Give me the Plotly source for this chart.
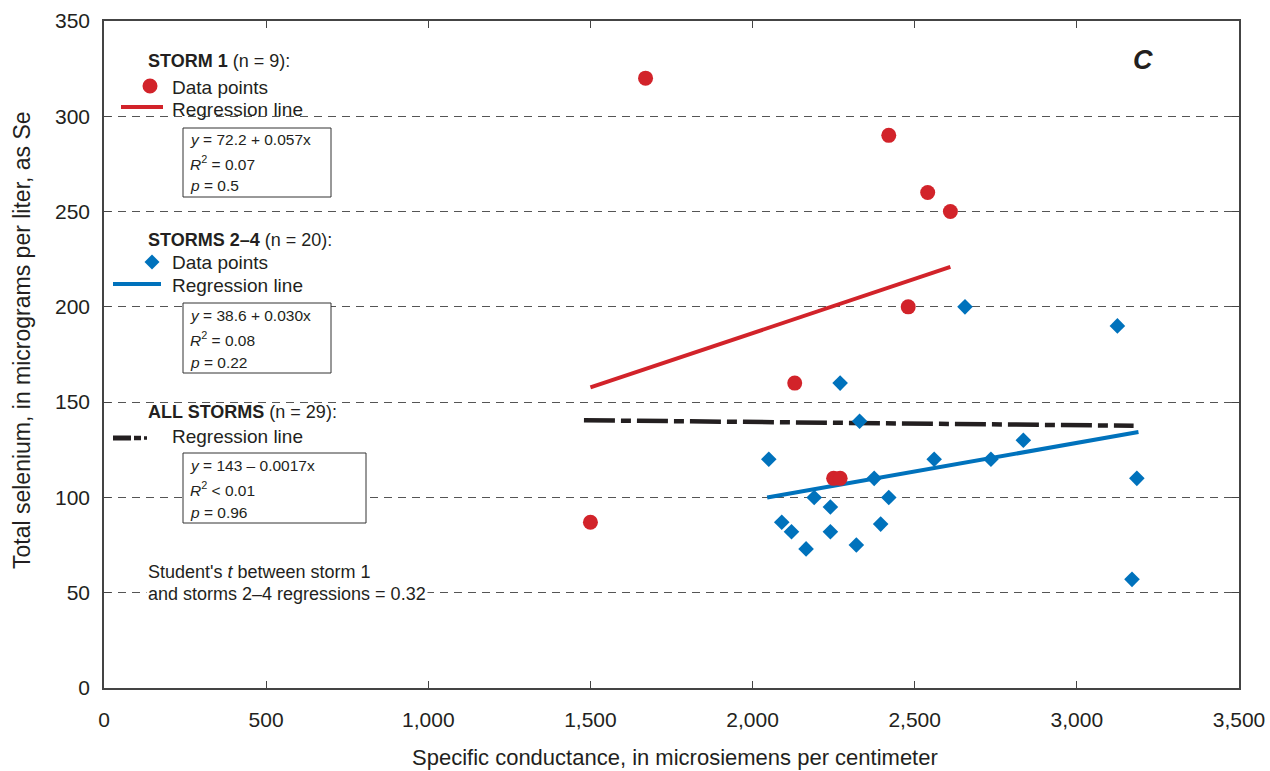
import plotly.graph_objects as go

# ---------------- data ----------------
storm1_sc = [1500, 1670, 2130, 2250, 2270, 2420, 2480, 2540, 2610]
storm1_se = [87, 320, 160, 110, 110, 290, 200, 260, 250]

storms24_sc = [2050, 2090, 2120, 2165, 2190, 2240, 2240, 2270, 2320, 2330,
               2375, 2395, 2420, 2560, 2655, 2735, 2835, 3125, 3170, 3185]
storms24_se = [120, 87, 82, 73, 100, 95, 82, 160, 75, 140,
               110, 86, 100, 120, 200, 120, 130, 190, 57, 110]

# regression equations (intercept, slope) and x extents
storm1_reg = (72.2, 0.057)
storm1_reg_x = [1500, 2610]
storms24_reg = (38.6, 0.030)
storms24_reg_x = [2045, 3190]
all_reg = (143.0, -0.0017)
all_reg_x = [1480, 3175]

x_ticks = [0, 500, 1000, 1500, 2000, 2500, 3000, 3500]
y_ticks = [0, 50, 100, 150, 200, 250, 300, 350]

RED = "#D2232A"
BLUE = "#0072BC"
BLACK = "#231F20"
TXT = "#231F20"
FONT = "Liberation Sans, Arial, sans-serif"

def reg_y(eq, xs):
    return [eq[0] + eq[1] * x for x in xs]

fig = go.Figure()

fig.add_trace(go.Scatter(x=all_reg_x, y=reg_y(all_reg, all_reg_x), mode="lines",
                         line=dict(color=BLACK, width=4.5, dash="31px,6px,10px,6px"),
                         showlegend=False, hoverinfo="skip"))
fig.add_trace(go.Scatter(x=storm1_reg_x, y=reg_y(storm1_reg, storm1_reg_x), mode="lines",
                         line=dict(color=RED, width=4), showlegend=False, hoverinfo="skip"))
fig.add_trace(go.Scatter(x=storms24_reg_x, y=reg_y(storms24_reg, storms24_reg_x), mode="lines",
                         line=dict(color=BLUE, width=4), showlegend=False, hoverinfo="skip"))
fig.add_trace(go.Scatter(x=storm1_sc, y=storm1_se, mode="markers",
                         marker=dict(symbol="circle", size=15, color=RED, line=dict(width=0)),
                         showlegend=False))
fig.add_trace(go.Scatter(x=storms24_sc, y=storms24_se, mode="markers",
                         marker=dict(symbol="diamond", size=12, color=BLUE, line=dict(width=0)),
                         showlegend=False))

# ---------------- layout helpers (pixel -> paper) ----------------
L, R, T, B = 104, 1239, 21, 688
def px(x):
    return (x - L) / (R - L)
def py(y):
    return (B - y) / (B - T)

shapes = []
annotations = []

def text(x, y, s, size=19, xanchor="left", bg=None, **kw):
    d = dict(x=px(x), y=py(y), xref="paper", yref="paper", text=s, showarrow=False,
             xanchor=xanchor, yanchor="middle", align="left",
             font=dict(family=FONT, size=size, color=TXT))
    if bg:
        d["bgcolor"] = bg
    d.update(kw)
    annotations.append(d)

def box(x0, y0, x1, y1):
    shapes.append(dict(type="rect", xref="paper", yref="paper",
                       x0=px(x0), x1=px(x1), y0=py(y1), y1=py(y0),
                       line=dict(color="#333333", width=1), fillcolor="white", layer="above"))

def hline(x0, x1, y, color, width):
    shapes.append(dict(type="line", xref="paper", yref="paper",
                       x0=px(x0), x1=px(x1), y0=py(y), y1=py(y),
                       line=dict(color=color, width=width), layer="above"))

# Storm 1 legend
text(146, 61, "<b>STORM 1</b> (n = 9):", size=18)
shapes.append(dict(type="circle", xref="paper", yref="paper",
                   x0=px(142.5), x1=px(157.5), y0=py(93.5), y1=py(78.5),
                   fillcolor=RED, line=dict(width=0), layer="above"))
text(170, 87, "Data points")
hline(121, 163, 107, RED, 4)
text(170, 109, "Regression line")
box(183, 128, 331, 197)
text(188, 140, "<i>y</i> = 72.2 + 0.057x", size=15.5)
text(188, 163, "<i>R</i><sup>2</sup> = 0.07", size=15.5)
text(188, 186, "<i>p</i> = 0.5", size=15.5)

# Storms 2-4 legend
text(146, 240, "<b>STORMS 2–4</b> (n = 20):", size=18)
cx, cy, r = 152, 262, 7.5
shapes.append(dict(type="path", xref="paper", yref="paper",
                   path="M {} {} L {} {} L {} {} L {} {} Z".format(
                       px(cx - r), py(cy), px(cx), py(cy - r), px(cx + r), py(cy), px(cx), py(cy + r)),
                   fillcolor=BLUE, line=dict(width=0), layer="above"))
text(170, 262, "Data points")
hline(113, 161, 284, BLUE, 4)
text(170, 285, "Regression line")
box(183, 303, 331, 373)
text(188, 315, "<i>y</i> = 38.6 + 0.030x", size=15.5)
text(188, 339, "<i>R</i><sup>2</sup> = 0.08", size=15.5)
text(188, 362, "<i>p</i> = 0.22", size=15.5)

# All storms legend
text(146, 412, "<b>ALL STORMS</b> (n = 29):", size=18)
hline(113, 131, 438, BLACK, 5)
hline(134, 141, 438, BLACK, 4.5)
hline(144, 147, 438, BLACK, 3.5)
text(170, 436, "Regression line")
box(183, 453, 366, 523)
text(188, 465, "<i>y</i> = 143 – 0.0017x", size=15.5)
text(188, 489, "<i>R</i><sup>2</sup> &lt; 0.01", size=15.5)
text(188, 512, "<i>p</i> = 0.96", size=15.5)

# Student's t
text(146, 572, "Student's <i>t</i> between storm 1", size=18)
text(146, 594, "and storms 2–4 regressions = 0.32", size=18, bg="white")

# Panel label
text(1143, 60, "<b><i>C</i></b>", size=27, xanchor="center")

# Axis titles
annotations.append(dict(x=px(675), y=py(757), xref="paper", yref="paper",
                        text="Specific conductance, in microsiemens per centimeter",
                        showarrow=False, xanchor="center", yanchor="middle",
                        font=dict(family=FONT, size=22, color=TXT)))
annotations.append(dict(x=px(22), y=py(340), xref="paper", yref="paper",
                        text="Total selenium, in micrograms per liter, as Se",
                        showarrow=False, xanchor="center", yanchor="middle", textangle=-90,
                        font=dict(family=FONT, size=23, color=TXT)))

axis_common = dict(showline=True, linecolor="#444444", linewidth=1.5, mirror="ticks",
                   ticks="inside", ticklen=7, tickwidth=1.3, tickcolor="#444444",
                   zeroline=False, automargin=False, ticklabeloverflow="allow",
                   tickfont=dict(family=FONT, size=21, color=TXT))

fig.update_layout(
    width=1270, height=771,
    margin=dict(l=L, r=1270 - R, t=T, b=771 - B),
    paper_bgcolor="white", plot_bgcolor="white",
    showlegend=False,
    xaxis=dict(range=[0, 3500], tickvals=x_ticks,
               ticktext=[f"{v:,}" for v in x_ticks], showgrid=False,
               ticklabelstandoff=12, **axis_common),
    yaxis=dict(range=[0, 350], tickvals=y_ticks, showgrid=True,
               gridcolor="#555555", gridwidth=1, griddash="8px,6px",
               ticklabelstandoff=8, **axis_common),
    shapes=shapes,
    annotations=annotations,
)

fig.write_html("out.html")
